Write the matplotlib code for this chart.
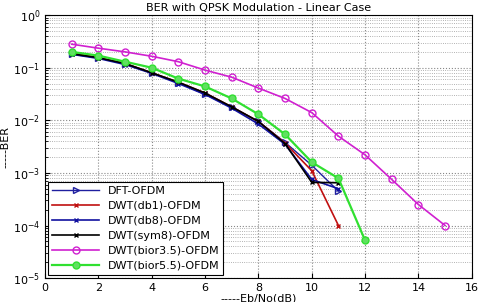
import matplotlib.pyplot as plt
import numpy as np

snr11 = [1, 2, 3, 4, 5, 6, 7, 8, 9, 10, 11]
snr12 = [1, 2, 3, 4, 5, 6, 7, 8, 9, 10, 11, 12]
snr15 = [1, 2, 3, 4, 5, 6, 7, 8, 9, 10, 11, 12, 13, 14, 15]

ber_dft = [0.18, 0.155, 0.12, 0.08, 0.052, 0.031, 0.018, 0.0095, 0.0038, 0.0014, 4.5e-4]
ber_db1 = [0.19, 0.155, 0.12, 0.08, 0.053, 0.033, 0.018, 0.0095, 0.0037, 1.1e-3, 1e-4]
ber_db8 = [0.18, 0.15, 0.115, 0.078, 0.05, 0.031, 0.017, 0.0085, 0.0035, 7.5e-4, 5e-4]
ber_sym8 = [0.185, 0.155, 0.12, 0.08, 0.053, 0.033, 0.018, 0.0095, 0.0036, 6.6e-4, 6.5e-4]
ber_bior35 = [0.28, 0.235, 0.2, 0.165, 0.13, 0.09, 0.066, 0.041, 0.026, 0.014, 0.005,
              0.0022, 7.5e-4, 2.5e-4, 1e-4]
ber_bior55 = [0.2, 0.17, 0.13, 0.1, 0.062, 0.044, 0.026, 0.013, 0.0054, 0.0016, 7.9e-4, 5.2e-5]

fig = plt.figure(figsize=(4.79, 3.02), dpi=100)
ax = fig.add_axes([0.094, 0.079, 0.891, 0.871])

ax.semilogy(snr11, ber_dft, '->', color='#1f1f9f', mfc='none', ms=5, lw=1, label='DFT-OFDM')
ax.semilogy(snr11, ber_db1, '-x', color='#c01010', ms=3, lw=1.2, label='DWT(db1)-OFDM')
ax.semilogy(snr11, ber_db8, '-x', color='#1010a0', ms=3, lw=1.2, label='DWT(db8)-OFDM')
ax.semilogy(snr11, ber_sym8, '-x', color='black', ms=3, lw=1.2, label='DWT(sym8)-OFDM')
ax.semilogy(snr15, ber_bior35, '-o', color='#d020d0', mfc='none', ms=5, lw=1.2,
            label='DWT(bior3.5)-OFDM')
ax.semilogy(snr12, ber_bior55, '-o', color='#30e030', mfc='#60e060', ms=5, lw=1.6,
            label='DWT(bior5.5)-OFDM')

ax.set_xlim(0, 16)
ax.set_ylim(1e-5, 1)
ax.set_xticks(np.arange(0, 17, 2))
ax.grid(True, which='major', linestyle=':', color='#888888', lw=0.8)
ax.grid(True, which='minor', axis='y', linestyle=':', color='#999999', lw=0.6)
ax.tick_params(labelsize=8, direction='in', which='both')
ax.set_title('BER with QPSK Modulation - Linear Case', fontsize=8, pad=3)
ax.set_xlabel('-----Eb/No(dB)', fontsize=8, labelpad=0)
ax.set_ylabel('-----BER', fontsize=8, labelpad=2)

leg = ax.legend(loc='lower left', fontsize=8, fancybox=False, edgecolor='black',
                borderaxespad=0.3, handlelength=4.2, labelspacing=0.45, borderpad=0.35,
                framealpha=1)
leg.get_frame().set_linewidth(0.8)

fig.savefig('out.png', dpi=100)
